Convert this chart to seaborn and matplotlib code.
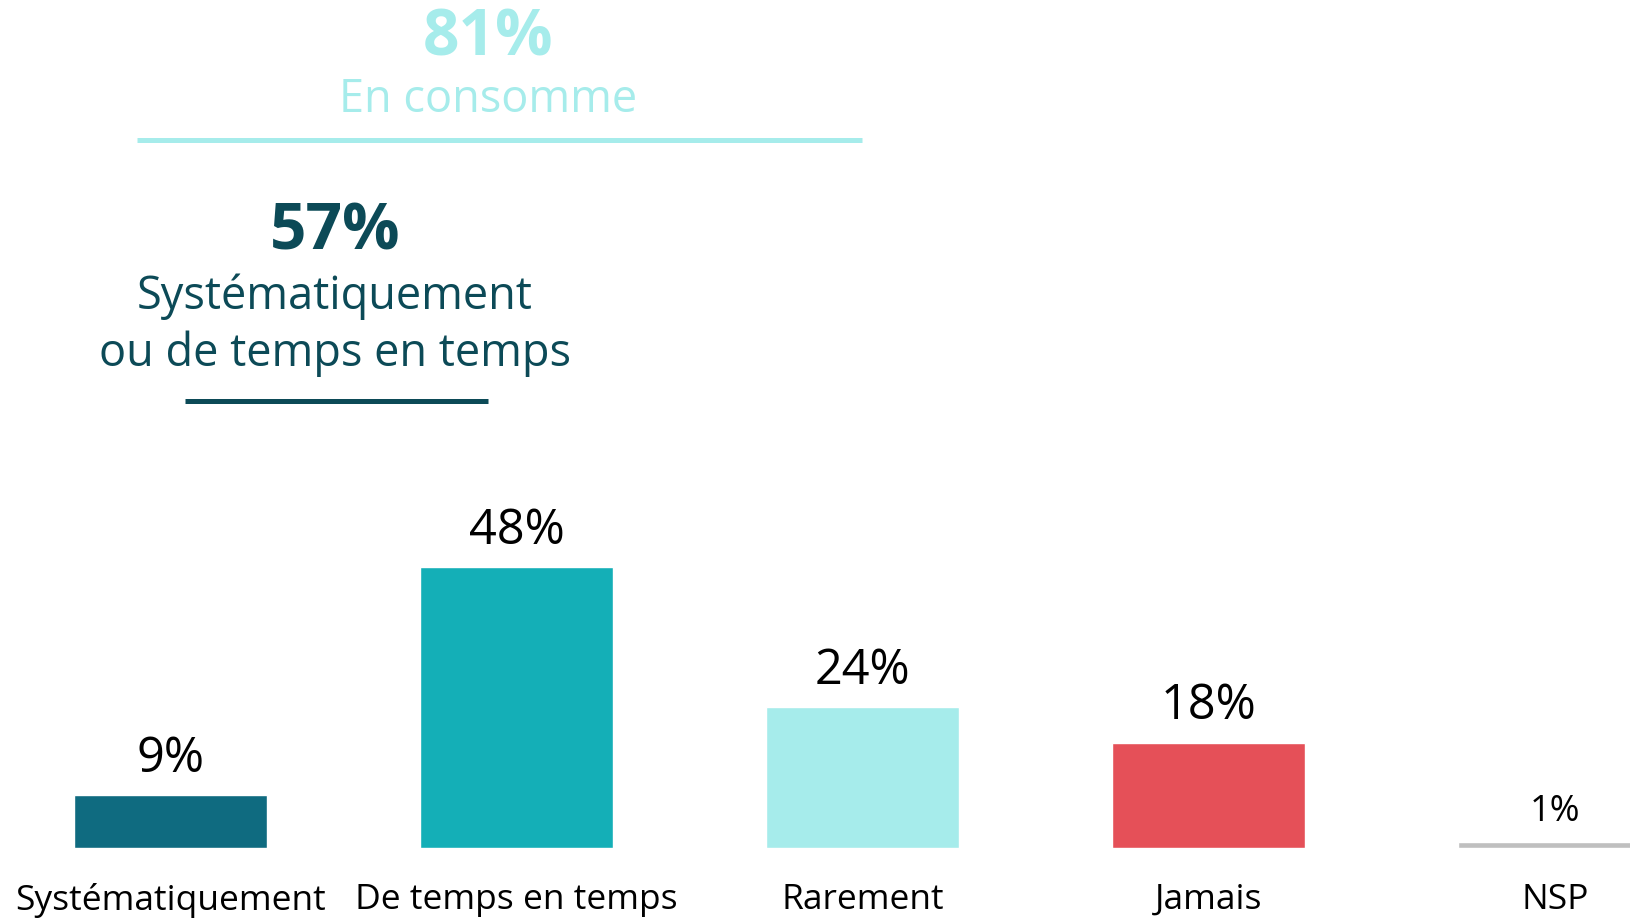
import numpy as np
import pandas as pd
import matplotlib
matplotlib.use('Agg')
import matplotlib.pyplot as plt
from matplotlib.lines import Line2D
import seaborn as sns

# données
categories = ['Systématiquement', 'De temps en temps', 'Rarement', 'Jamais', 'NSP']
values = [9, 48, 24, 18, 1]
colors = ['#0F6B80', '#14AFB7', '#A6ECEB', '#E55058', '#BFBFBF']

total_consomme = sum(values[:3])      # 81%
total_regulier = sum(values[:2])      # 57%

df = pd.DataFrame({'cat': categories, 'val': values})

sns.set_style('white')
plt.rcParams['font.family'] = ['Open Sans', 'DejaVu Sans']

fig = plt.figure(figsize=(16.3, 9.18), dpi=100)
ax = fig.add_axes([0, 0.0762, 1, 0.9238])

sns.barplot(data=df, x='cat', y='val', hue='cat', palette=colors,
            width=0.558, saturation=1, legend=False, ax=ax)

ax.set_xlim(-0.493, 4.217)
ax.set_ylim(0, 144.8)

# étiquettes de valeur
for i, v in enumerate(values):
    fs = 26 if categories[i] == 'NSP' else 35
    gap = 3.6 if categories[i] == 'NSP' else 4.0
    ax.text(i, v + gap, f'{v}%', ha='center', va='baseline',
            fontsize=fs, color='black')

ax.set_xlabel('')
ax.set_ylabel('')
ax.set_yticks([])
ax.tick_params(axis='x', length=0, pad=25, labelsize=25.5, labelcolor='black')
sns.despine(ax=ax, left=True, bottom=True, top=True, right=True)

# bloc "En consomme"
W, H = 1630, 918
fig.text(488 / W, 1 - 39 / H, f'{total_consomme}%', ha='center', va='center',
         fontsize=46, fontweight='bold', color='#A6ECEB')
fig.text(488 / W, 1 - 100 / H, 'En consomme', ha='center', va='center',
         fontsize=32.5, color='#A6ECEB')
fig.add_artist(Line2D([137 / W, 862 / W], [1 - 140 / H, 1 - 140 / H],
                      color='#A6ECEB', lw=3.6, solid_capstyle='butt'))

# bloc "Systématiquement ou de temps en temps"
fig.text(335 / W, 1 - 233 / H, f'{total_regulier}%', ha='center', va='center',
         fontsize=46, fontweight='bold', color='#0C4A57')
fig.text(335 / W, 1 - 297 / H, 'Systématiquement', ha='center', va='center',
         fontsize=32.5, color='#0C4A57')
fig.text(335 / W, 1 - 354 / H, 'ou de temps en temps', ha='center', va='center',
         fontsize=32.5, color='#0C4A57')
fig.add_artist(Line2D([185 / W, 488 / W], [1 - 401 / H, 1 - 401 / H],
                      color='#0C4A57', lw=3.6, solid_capstyle='butt'))

fig.savefig('out.png', dpi=100)
